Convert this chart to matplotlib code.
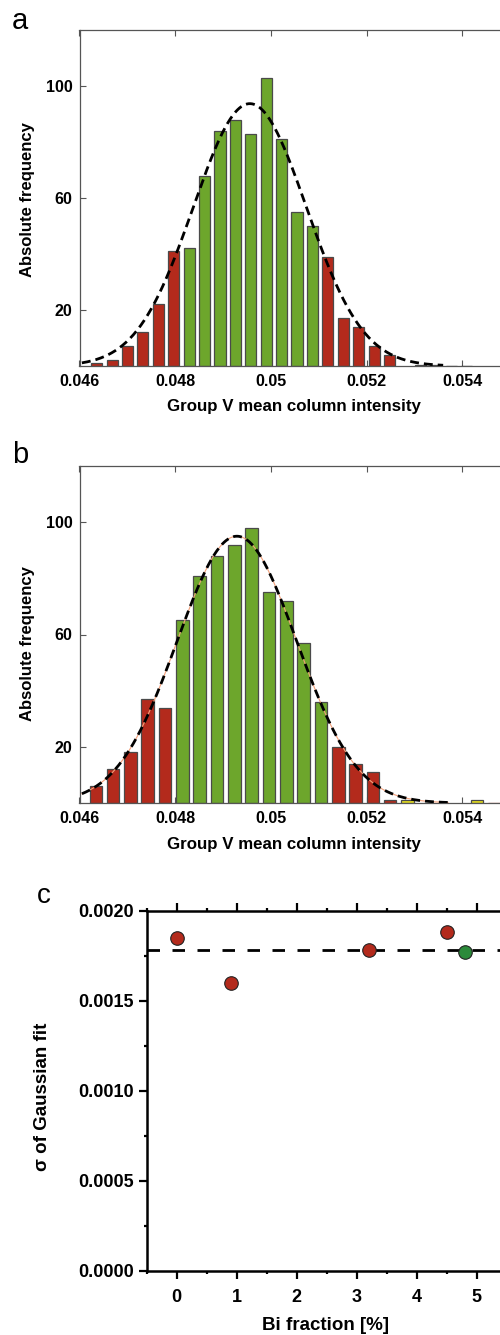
import numpy as np
import matplotlib
matplotlib.use("Agg")
import matplotlib.pyplot as plt
from matplotlib.ticker import MultipleLocator

plt.rcParams['font.family'] = ['Liberation Sans', 'DejaVu Sans']

W, H = 500, 1335

# ---------------- data ----------------
# Panel a histogram
a_start, a_bin = 0.04636, 0.000322
a_counts = [1, 2, 7, 12, 22, 41, 42, 68, 84, 88, 83, 103, 81, 55, 50, 39, 17, 14, 7, 4, 0, 0.4, 0.4, 0, 0]
a_class = ['r', 'r', 'r', 'r', 'r', 'r', 'g', 'g', 'g', 'g', 'g', 'g', 'g', 'g', 'g', 'r', 'r', 'r', 'r', 'r', 'n', 'y', 'y', 'k', 'k']
a_fit = dict(amp=93.7, mu=0.04956, sigma=0.00118, lo=0.04605, hi=0.0536)

# Panel b histogram
b_start, b_bin = 0.04634, 0.000362
b_counts = [6, 12, 18, 37, 34, 65, 81, 88, 92, 98, 75, 72, 57, 36, 20, 14, 11, 1, 1, 0, 0, 0, 1, 0, 0]
b_class = ['r', 'r', 'r', 'r', 'r', 'g', 'g', 'g', 'g', 'g', 'g', 'g', 'g', 'g', 'r', 'r', 'r', 'r', 'y', 'n', 'n', 'n', 'y', 'z', 'z']
b_fit = dict(amp=95.0, mu=0.04929, sigma=0.00125, lo=0.04605, hi=0.0537)

# Panel c
bi_fraction = [0.0, 0.9, 3.2, 4.5, 4.8]
sigma_fit = [0.00185, 0.00160, 0.00178, 0.00188, 0.00177]
point_class = ['r', 'r', 'r', 'r', 'g']
sigma_mean = 0.00178

hist_xticks = [0.046, 0.048, 0.05, 0.052, 0.054]
hist_xticklabels = ['0.046', '0.048', '0.05', '0.052', '0.054']
hist_yticks = [20, 60, 100]
c_yticks = [0.0, 0.0005, 0.0010, 0.0015, 0.0020]
c_yticklabels = ['0.0000', '0.0005', '0.0010', '0.0015', '0.0020']
c_xticks = [0, 1, 2, 3, 4, 5]

# ---------------- styles ----------------
BAR_COL = {'r': '#B32A1C', 'g': '#6DA62C', 'y': '#E6DF1E', 'k': '#FFFFFF', 'z': '#B32A1C'}
EDGE_COL = {'r': '#4A4A4A', 'g': '#4A4A4A', 'y': '#4A4A4A', 'k': '#111111', 'z': '#B32A1C'}
DOT_COL = {'r': '#B32A1C', 'g': '#2B8A3A'}

fig = plt.figure(figsize=(W / 100, H / 100), dpi=100)


def fx(px):
    return px / W


def fy(py):
    return 1 - py / H


def hist_panel(top, bottom, start, binw, counts, classes, fit, under_line=None):
    left = 79.5
    xmin, xmax = 0.046, 0.056
    px_per_unit = 95.7 / 0.002
    width_px = (xmax - xmin) * px_per_unit
    ax = fig.add_axes([fx(left), fy(bottom), fx(width_px), (bottom - top) / H])
    centers = [start + i * binw for i in range(len(counts))]
    for c, h, k in zip(centers, counts, classes):
        if k == 'n':
            continue
        ax.bar(c, h, width=binw * 0.72, color=BAR_COL[k], edgecolor=EDGE_COL[k],
               linewidth=0.9, zorder=2)
    xs = np.linspace(fit['lo'], fit['hi'], 400)
    ys = fit['amp'] * np.exp(-(xs - fit['mu']) ** 2 / (2 * fit['sigma'] ** 2))
    if under_line:
        ax.plot(xs, ys, color=under_line, lw=0.8, zorder=3)
    ax.plot(xs, ys, color='black', lw=2.0, linestyle=(0, (3.2, 1.8)), zorder=4)
    ax.set_xlim(xmin, xmax)
    ax.set_ylim(0, 120)
    ax.set_xticks(hist_xticks)
    ax.set_xticklabels(hist_xticklabels)
    ax.set_yticks(hist_yticks)
    ax.tick_params(axis='both', direction='in', length=4, width=0.8, color='#555555',
                   labelsize=11.5, pad=5, top=True)
    ax.tick_params(axis='x', pad=6)
    for lab in ax.get_xticklabels() + ax.get_yticklabels():
        lab.set_fontweight('bold')
    for s in ['left', 'top', 'bottom', 'right']:
        ax.spines[s].set_color('#555555')
        ax.spines[s].set_linewidth(0.9)
    return ax


ax_a = hist_panel(30, 366, a_start, a_bin, a_counts, a_class, a_fit)
ax_b = hist_panel(466, 803, b_start, b_bin, b_counts, b_class, b_fit, under_line='#F2A07A')

for ax, ylab_y, xl_y in [(ax_a, 200, 406), (ax_b, 644, 845)]:
    fig.text(fx(28), fy(ylab_y), 'Absolute frequency', rotation=90,
             ha='center', va='center', fontsize=12, fontweight='bold')
    fig.text(fx(294), fy(xl_y), 'Group V mean column intensity', ha='center', va='center',
             fontsize=12.2, fontweight='bold')

fig.text(fx(12), fy(21), 'a', fontsize=21, ha='left', va='center')
fig.text(fx(12), fy(455), 'b', fontsize=21, ha='left', va='center')
fig.text(fx(37), fy(896), 'c', fontsize=20, ha='left', va='center')

# ---------------- panel c ----------------
c_left, c_top, c_bottom = 146.7, 910.7, 1270.7
px_per_x = 60.0
cxmin, cxmax = -0.5, 6.0
ax_c = fig.add_axes([fx(c_left), fy(c_bottom), fx((cxmax - cxmin) * px_per_x), (c_bottom - c_top) / H])
ax_c.axhline(sigma_mean, color='black', lw=2.0, linestyle=(0, (4.5, 4.5)), zorder=2)
for x, y, k in zip(bi_fraction, sigma_fit, point_class):
    ax_c.scatter(x, y, s=95, color=DOT_COL[k], edgecolor='#222222', linewidth=0.8, zorder=3)
ax_c.set_xlim(cxmin, cxmax)
ax_c.set_ylim(0, 0.0020)
ax_c.set_xticks(c_xticks)
ax_c.xaxis.set_minor_locator(MultipleLocator(0.5))
ax_c.set_yticks(c_yticks)
ax_c.set_yticklabels(c_yticklabels)
ax_c.yaxis.set_minor_locator(MultipleLocator(0.00025))
ax_c.tick_params(axis='both', which='major', direction='out', length=5.5, width=1.6,
                 labelsize=13, top=True, pad=4)
ax_c.tick_params(axis='both', which='minor', direction='out', length=2.5, width=1.6, top=True)
ax_c.tick_params(axis='x', which='major', pad=8)
for lab in ax_c.get_xticklabels() + ax_c.get_yticklabels():
    lab.set_fontweight('bold')
for s in ['left', 'top', 'bottom', 'right']:
    ax_c.spines[s].set_linewidth(1.8)
fig.text(fx(326), fy(1326), 'Bi fraction [%]', ha='center', va='center',
         fontsize=13.5, fontweight='bold')
fig.text(fx(43), fy(1097), 'σ of Gaussian fit', rotation=90, ha='center', va='center',
         fontsize=13.5, fontweight='bold')

fig.savefig('out.png', dpi=100)
